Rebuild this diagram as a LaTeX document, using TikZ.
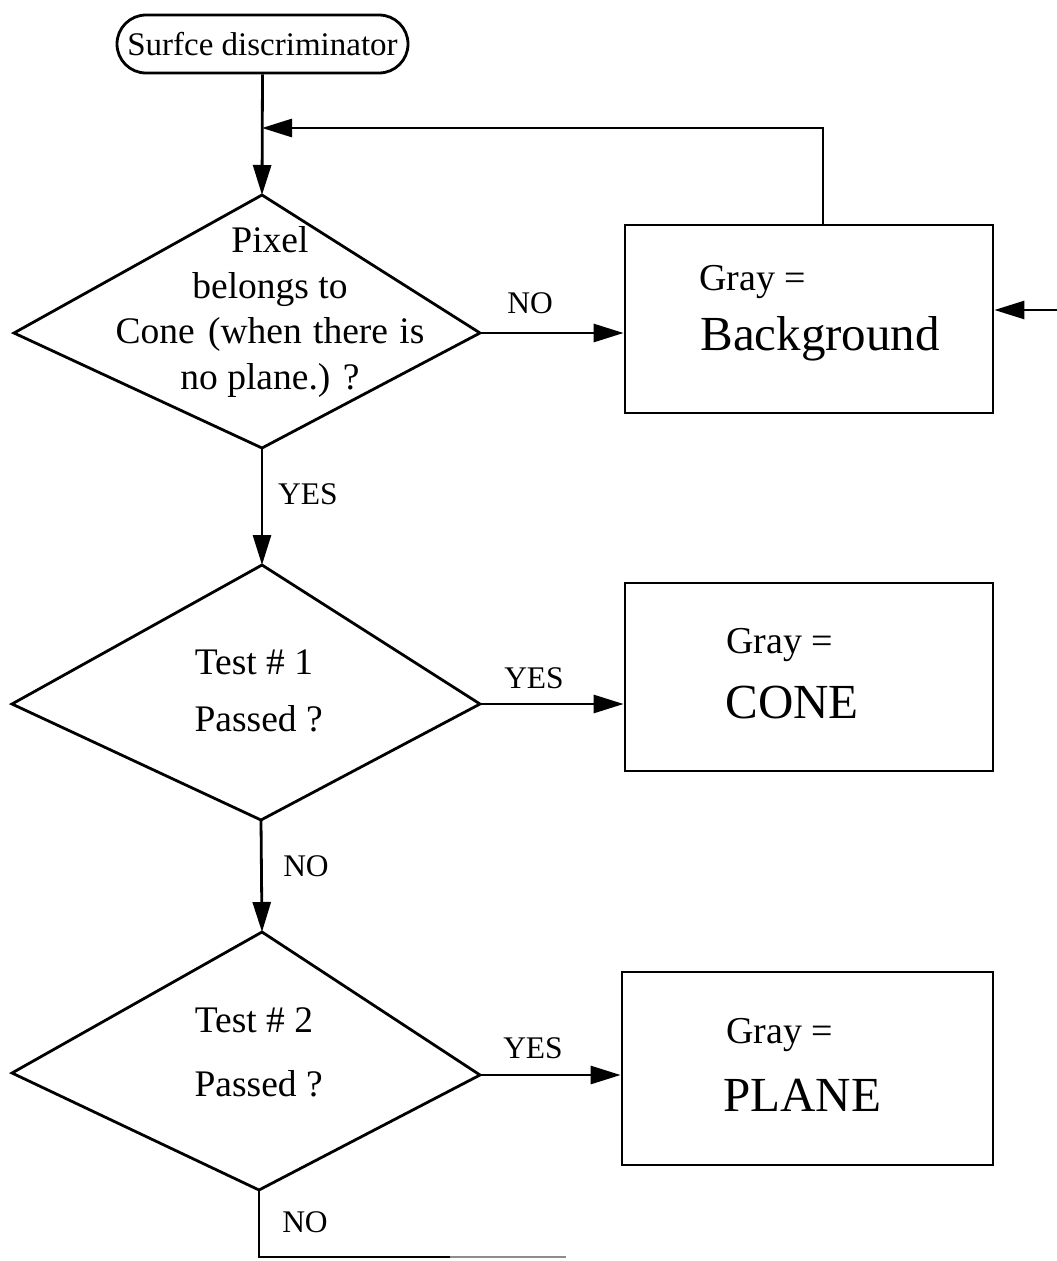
\documentclass[tikz,border=0pt]{standalone}
\usepackage{fontspec}
\setmainfont{Liberation Serif}
\usetikzlibrary{arrows.meta}
\begin{document}
\begin{tikzpicture}[x=1pt,y=-1pt,line width=2.8pt,
  startbox/.style={draw,rounded corners=29pt,minimum width=291pt,minimum height=58pt,inner sep=0pt,font=\fontsize{33}{38}\selectfont},
  outbox/.style={draw,minimum width=368pt,minimum height=188pt,inner sep=0pt},
  dtext/.style={align=center,inner sep=0pt,font=\fontsize{37.5}{45.5}\selectfont},
  graytxt/.style={anchor=west,inner sep=0pt,font=\fontsize{38}{44}\selectfont},
  bigtxt/.style={anchor=west,inner sep=0pt,font=\fontsize{49}{56}\selectfont},
  lbl/.style={inner sep=0pt,font=\fontsize{31.5}{36}\selectfont},
  arr/.style={-{Triangle[length=30pt,width=18pt]}}]
\useasboundingbox (0,0) rectangle (1057,1261);

% start
\node[startbox] (s) at (262.5,44) {Surfce discriminator};

% decision 1
\coordinate (d1n) at (262,195);
\coordinate (d1e) at (480,333);
\coordinate (d1s) at (262,448);
\coordinate (d1w) at (14,333);
\draw (d1n) -- (d1e) -- (d1s) -- (d1w) -- cycle;
\node[dtext] (t1) at (270,312) {Pixel\\belongs to\\Cone\hspace{4pt} (when\hspace{2pt} there\hspace{2pt} is\\no plane.) ?};

% decision 2
\coordinate (d2n) at (262,565);
\coordinate (d2e) at (480,704);
\coordinate (d2s) at (261,820);
\coordinate (d2w) at (12,704);
\draw (d2n) -- (d2e) -- (d2s) -- (d2w) -- cycle;
\node[dtext,font=\fontsize{37.5}{57}\selectfont] (t2) at (254,691) {Test \# 1\\\ Passed ?};

% decision 3
\coordinate (d3n) at (262,932);
\coordinate (d3e) at (480,1075);
\coordinate (d3s) at (259,1190);
\coordinate (d3w) at (12,1073);
\draw (d3n) -- (d3e) -- (d3s) -- (d3w) -- cycle;
\node[dtext,font=\fontsize{37.5}{64}\selectfont] (t3) at (254,1052) {Test \# 2\\\ Passed ?};

% output boxes
\node[outbox] (bg) at (809,319) {};
\node[graytxt] (bg1) at (698,282) {Gray =};
\node[bigtxt] (bg2) at (699,339) {Background};

\node[outbox] (cn) at (809,677) {};
\node[graytxt] (cn1) at (725,645) {Gray =};
\node[bigtxt] (cn2) at (724,703) {CONE};

\node[outbox,minimum width=371pt,minimum height=193pt] (pl) at (807.5,1068.5) {};
\node[graytxt] (pl1) at (725,1035) {Gray =};
\node[bigtxt] (pl2) at (722,1095) {PLANE};

% connectors
\coordinate (j) at (262,128);
\coordinate (rt) at (823,225);
\draw[arr] (s.south) -- (d1n);
\draw[arr] (rt) |- (j);
\coordinate (rin) at (1057,310);
\draw[arr] (rin) -- (bg.east |- rin);

\draw[arr] (d1e) -- (bg.west |- d1e);
\node[lbl] (l1) at (530,303) {NO};
\draw[arr] (d1s) -- (d2n);
\node[lbl] (l2) at (308,494) {YES};

\draw[arr] (d2e) -- (cn.west |- d2e);
\node[lbl] (l3) at (534,678) {YES};
\draw[arr] (d2s) -- (d3n);
\node[lbl] (l4) at (306,866) {NO};

\draw[arr] (d3e) -- (pl.west |- d3e);
\node[lbl] (l5) at (533,1048) {YES};
\coordinate (bc) at (259,1257);
\coordinate (be) at (450,1257);
\coordinate (bf) at (566,1257);
\draw (d3s) -- (bc) -- (be);
\draw[black!45,line width=2pt] (be) -- (bf);
\node[lbl] (l6) at (305,1222) {NO};
\end{tikzpicture}
\end{document}
